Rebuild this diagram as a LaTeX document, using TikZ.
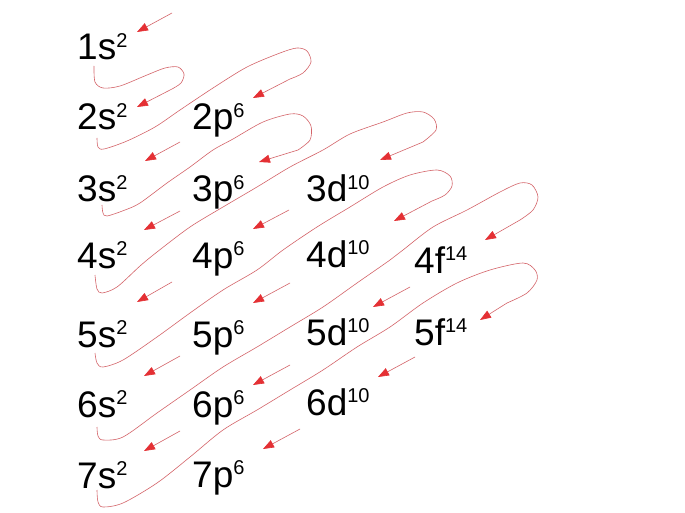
\documentclass[tikz,border=0pt]{standalone}
\usepackage{fontspec}
\setmainfont{Liberation Sans}
\usepackage{tikz}
\usetikzlibrary{arrows.meta}
\definecolor{linered}{RGB}{212,100,105}
\definecolor{tipred}{RGB}{228,48,52}
\newcommand\orb[2]{#1\raisebox{12.5pt}{\fontsize{20}{22}\selectfont #2}}
\tikzset{
  orbital/.style={anchor=base west,inner sep=0pt,font=\fontsize{37}{40}\selectfont},
  snake/.style={linered,line width=0.6pt},
}

\begin{document}
\begin{tikzpicture}[x=1pt,y=-1pt,>={Triangle[length=11pt,width=8pt,color=tipred]}]
        \path[fill=white] (0,0) rectangle (685,513);
        % labels
        \foreach \n/\y in {1/60,2/130,3/202,4/268,5/347,6/417,7/488}{
          \node[orbital] (s\n) at (77,\y) {\orb{\n s}{2}};
        }
        \foreach \n/\y in {2/130,3/202,4/268,5/347,6/417,7/487}{
          \node[orbital] (p\n) at (192,\y) {\orb{\n p}{6}};
        }
        \foreach \n/\y in {3/202,4/267,5/345,6/415}{
          \node[orbital] (d\n) at (306,\y) {\orb{\n d}{10}};
        }
        \node[orbital] (f4) at (414,273) {\orb{4f}{14}};
        \node[orbital] (f5) at (414,345) {\orb{5f}{14}};
        % short arrows along the diagonals
        \foreach \x/\y/\u/\v in {172/13/137/32, 180/142/145/161, 180/211/144/230,
            289/210/253/229, 172/282/137/302, 290/283/253/303, 410/287/373/307,
            180/356/144/376, 290/365/253/385, 415/357/378/377, 180/431/144/451,
            300/429/263/449}{
          \draw[->,snake] (\x,\y) -- (\u,\v);
        }
        % loops from one diagonal to the next
        \draw[->,snake] plot[smooth] coordinates {(94,66) (95,82) (103,88) (120,86)
          (147,75) (165,68) (178,67) (184,74) (181,83) (172,89)} -- (137,107);
        \draw[->,snake] plot[smooth] coordinates {(97,138) (98,147) (104,149) (127,141)
          (155,127) (180,110) (213,88) (247,67) (280,53) (297,48) (307,51) (311,62)
          (303,73) (290,79)} -- (253,98);
        \draw[->,snake] plot[smooth] coordinates {(102,205) (103,213) (107,216) (125,210)
          (140,203) (167,183) (190,167) (213,150) (233,139) (263,122) (290,114)
          (303,116) (311,126) (310,140) (298,150)} -- (259,162);
        \draw[->,snake] plot[smooth] coordinates {(95,275) (97,289) (102,293) (117,287)
          (140,266) (157,252) (190,227) (223,207) (257,187) (290,167) (323,150)
          (350,134) (383,122) (407,113) (423,112) (434,119) (436,130) (423,142)} -- (380,160);
        \draw[->,snake] plot[smooth] coordinates {(95,353) (97,363) (103,367) (123,360)
          (157,337) (190,313) (223,290) (257,270) (283,250) (317,227) (350,207)
          (383,187) (410,175) (437,170) (450,176) (452,186) (445,195) (432,201)} -- (394,221);
        \draw[->,snake] plot[smooth] coordinates {(97,427) (98,436) (103,440) (123,437)
          (157,413) (190,390) (223,367) (257,347) (290,327) (323,307) (357,283)
          (390,260) (403,250) (433,227) (467,210) (500,192) (520,183) (532,185)
          (538,197) (533,210) (520,220)} -- (485,240);
        \draw[->,snake] plot[smooth] coordinates {(97,490) (98,502) (103,507) (123,503)
          (157,483) (190,457) (223,430) (257,410) (290,390) (323,370) (357,347)
          (390,327) (423,303) (457,283) (490,270) (523,263) (535,270) (537,280)
          (527,293) (507,303)} -- (480,320);
      \end{tikzpicture}
\end{document}
